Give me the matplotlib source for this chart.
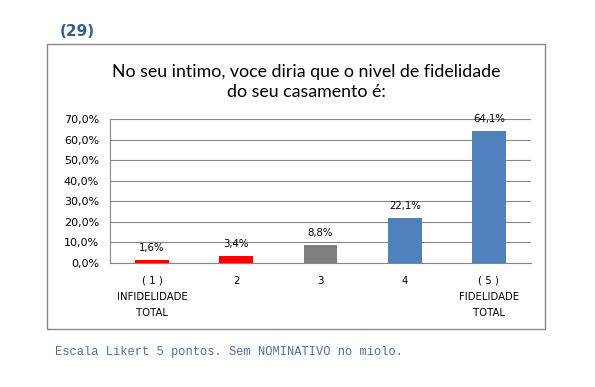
import matplotlib
matplotlib.use("Agg")
import matplotlib.pyplot as plt
from matplotlib.patches import Rectangle

categories = ["( 1 )\nINFIDELIDADE\nTOTAL", "2", "3", "4", "( 5 )\nFIDELIDADE\nTOTAL"]
values = [1.6, 3.4, 8.8, 22.1, 64.1]
colors = ["#FF0000", "#FF0000", "#7F7F7F", "#4F81BD", "#4F81BD"]
yticks = [0, 10, 20, 30, 40, 50, 60, 70]

fig = plt.figure(figsize=(5.95, 3.87), dpi=100)
W, H = 595, 387

# chart border
fig.patches.append(Rectangle((47 / W, 1 - 329 / H), (545 - 47) / W, (329 - 44) / H,
                             transform=fig.transFigure, fill=False, edgecolor="#868686", lw=1.0))

ax = fig.add_axes([110 / W, 1 - 263 / H, (531 - 110) / W, (263 - 119) / H])
x = list(range(len(categories)))
ax.bar(x, values, width=0.4, color=colors, zorder=3)
ax.set_xlim(-0.5, len(categories) - 0.5)
ax.set_ylim(0, 70)
ax.set_yticks(yticks)
ax.set_yticklabels([f"{v:.1f}%".replace(".", ",") for v in yticks], fontsize=8, family="DejaVu Sans")
ax.set_xticks(x)
ax.set_xticklabels(categories, fontsize=7.3, family="DejaVu Sans", linespacing=1.75)
ax.tick_params(axis="x", length=0, pad=9)
ax.tick_params(axis="y", length=0, pad=8)
ax.grid(axis="y", color="#868686", lw=0.8, zorder=0)
for s in ["top", "right"]:
    ax.spines[s].set_visible(False)
for s in ["left", "bottom"]:
    ax.spines[s].set_color("#868686")
    ax.spines[s].set_linewidth(0.8)

for xi, v in zip(x, values):
    ax.annotate(f"{v:.1f}%".replace(".", ","), (xi, v), xytext=(0, 5), textcoords="offset points",
                ha="center", va="bottom", fontsize=7.3, family="DejaVu Sans")

fig.text(306 / W, 1 - 82 / H, "No seu intimo, voce diria que o nivel de fidelidade\ndo seu casamento é:",
         ha="center", va="center", fontsize=12.8, family="Lato", linespacing=1.3)

fig.text(60 / W, 1 - 32 / H, "(29)", ha="left", va="center", fontsize=11, fontweight="bold",
         color="#2E5B9A", family="DejaVu Sans")

fig.text(55 / W, 1 - 352 / H, "Escala Likert 5 pontos. Sem NOMINATIVO no miolo.", ha="left", va="center",
         fontsize=8.65, color="#4F6FA8", family="Liberation Mono")

fig.savefig("out.png", dpi=100)
